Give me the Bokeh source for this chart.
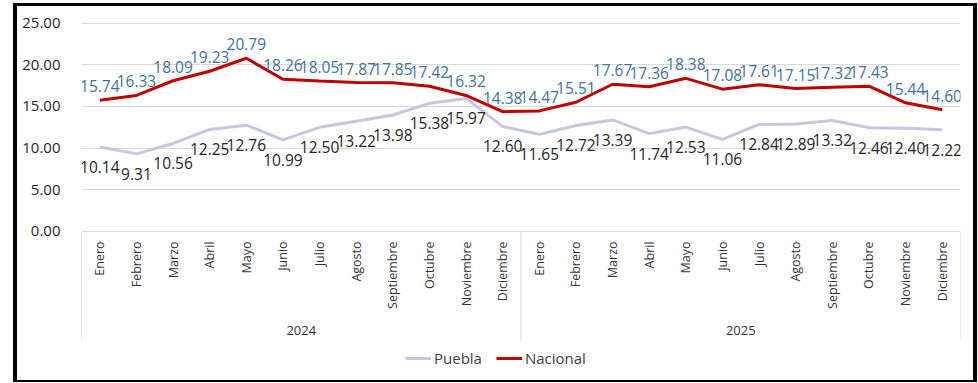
import math
from bokeh.plotting import figure
from bokeh.models import ColumnDataSource, Range1d, FixedTicker, NumeralTickFormatter, Legend, LegendItem
from bokeh.core.properties import value
from bokeh.embed import file_html
from bokeh.resources import INLINE

months = ["Enero", "Febrero", "Marzo", "Abril", "Mayo", "Junio", "Julio", "Agosto",
          "Septiembre", "Octubre", "Noviembre", "Diciembre"]
years = ["2024", "2025"]
nacional = [15.74, 16.33, 18.09, 19.23, 20.79, 18.26, 18.05, 17.87, 17.85, 17.42, 16.32, 14.38,
            14.47, 15.51, 17.67, 17.36, 18.38, 17.08, 17.61, 17.15, 17.32, 17.43, 15.44, 14.60]
puebla = [10.14, 9.31, 10.56, 12.25, 12.76, 10.99, 12.50, 13.22, 13.98, 15.38, 15.97, 12.60,
          11.65, 12.72, 13.39, 11.74, 12.53, 11.06, 12.84, 12.89, 13.32, 12.46, 12.40, 12.22]
y_ticks = [0, 5, 10, 15, 20, 25]

FONT = value("Open Sans")
RED = "#C00000"
LAV = "#C5C8DE"
BLUE = "#41719C"
DARK = "#262626"
GRID = "#D9D9D9"

n = len(nacional)
xs = list(range(n))
labels = [m for _ in years for m in months]

src = ColumnDataSource(dict(
    x=xs, nac=nacional, pue=puebla,
    nac_lbl=[f"{v:.2f}" for v in nacional],
    pue_lbl=[f"{v:.2f}" for v in puebla],
    month=labels,
))

p = figure(width=964, height=379, output_backend="svg", toolbar_location=None,
           x_range=Range1d(-0.5, n - 0.5), y_range=Range1d(-16.93, 25.92),
           x_axis_location=None, min_border_left=64, min_border_right=21,
           min_border_top=9, min_border_bottom=13)
p.styles = {"border-left": "4px solid black", "border-top": "3px solid black",
            "border-right": "4px solid black", "border-bottom": "2px solid black",
            "margin-left": "13px", "margin-top": "3px"}
p.outline_line_color = None
p.xgrid.visible = False
p.ygrid.ticker = FixedTicker(ticks=y_ticks)
p.ygrid.grid_line_color = GRID
p.ygrid.grid_line_width = 1

ya = p.yaxis[0]
ya.ticker = FixedTicker(ticks=y_ticks)
ya.formatter = NumeralTickFormatter(format="0.00")
ya.axis_line_color = None
ya.major_tick_line_color = None
ya.minor_tick_line_color = None
ya.major_label_standoff = 15
ya.major_label_text_font = "Open Sans"
ya.major_label_text_font_size = "15px"
ya.major_label_text_color = DARK

# group separators on the category axis
n_m = len(months)
sep_x = [k * n_m - 0.5 for k in range(len(years) + 1)]
p.segment(x0=sep_x, x1=sep_x, y0=[0] * len(sep_x), y1=[-13.1] * len(sep_x),
          line_color=GRID, line_width=1)

# month labels
p.text(x="x", y=0, text="month", source=src, angle=math.pi / 2, y_offset=10,
       text_align="right", text_baseline="middle", text_font=FONT,
       text_font_size="12.5px", text_color="#333333")
# year labels
yr_x = [k * n_m + (n_m - 1) / 2 for k in range(len(years))]
p.text(x=yr_x, y=[-11.9] * len(years), text=years, text_align="center",
       text_baseline="middle", text_font=FONT, text_font_size="13px", text_color="#333333")

r_pue = p.line("x", "pue", source=src, line_color=LAV, line_width=3)
r_nac = p.line("x", "nac", source=src, line_color=RED, line_width=3)

p.text(x="x", y="nac", text="nac_lbl", source=src, y_offset=-8, text_align="center",
       text_baseline="bottom", text_font=FONT, text_font_size="15.5px", text_color=BLUE)
p.text(x="x", y="pue", text="pue_lbl", source=src, y_offset=14, text_align="center",
       text_baseline="top", text_font=FONT, text_font_size="15.5px", text_color=DARK)

legend = Legend(items=[LegendItem(label="Puebla", renderers=[r_pue]),
                       LegendItem(label="Nacional", renderers=[r_nac])],
                orientation="horizontal", location=(324, 4), padding=0, margin=0,
                spacing=14, glyph_width=26, glyph_height=20, label_standoff=3,
                label_text_font="Open Sans", label_text_font_size="15px",
                label_text_color="#404040", border_line_color=None,
                background_fill_alpha=0)
p.add_layout(legend)

open("out.html", "w").write(file_html(p, INLINE))
